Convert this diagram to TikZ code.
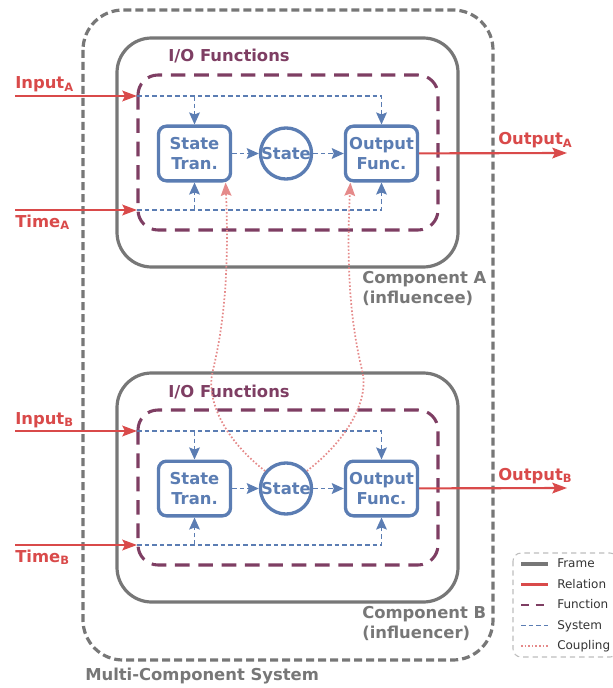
\documentclass[tikz,border=0pt]{standalone}
\usepackage{fontspec}
\setmainfont{DejaVu Sans}
\usetikzlibrary{arrows.meta}

\definecolor{framegray}{HTML}{777777}
\definecolor{relred}{HTML}{D94A4A}
\definecolor{funcplum}{HTML}{7E3E63}
\definecolor{sysblue}{HTML}{5B7DB3}
\definecolor{couplered}{HTML}{E58A8A}
\definecolor{keygray}{HTML}{BDBDBD}

\tikzset{%
  system frame/.style={
    draw=framegray,
    line width=2.4pt,
    dash pattern=on 6pt off 3pt,
    rounded corners=30pt
  },
  comp frame/.style={
    draw=framegray,
    line width=2.4pt,
    rounded corners=26pt
  },
  io box/.style={
    draw=funcplum,
    line width=2.3pt,
    dash pattern=on 11pt off 6.5pt,
    rounded corners=15pt
  },
  every block/.style={
    draw=sysblue,
    line width=2.5pt,
    text=sysblue,
    font=\bfseries\fontsize{12.3}{15}\selectfont,
    align=center,
    inner sep=0pt
  },
  block box/.style={
    rounded corners=6pt,
    minimum width=54pt,
    minimum height=41pt
  },
  block circle/.style={
    circle,
    minimum size=38pt
  },
  relation/.style={
    draw=relred,
    line width=1.6pt,
    >={Stealth[length=11pt, width=8pt, inset=2pt]}
  },
  sys line/.style={
    draw=sysblue,
    line width=1.4pt,
    dash pattern=on 3.5pt off 2.2pt,
    >={Stealth[length=9pt, width=8pt, inset=1.5pt]}
  },
  coupling/.style={
    draw=couplered,
    line width=1.3pt,
    dash pattern=on 1.2pt off 1.5pt,
    >={Stealth[length=10pt, width=8pt, inset=1.5pt]}
  },
  rel label/.style={
    text=relred,
    font=\bfseries\fontsize{12.3}{14}\selectfont,
    inner sep=0pt
  },
  func label/.style={
    text=funcplum,
    font=\bfseries\fontsize{12.3}{14}\selectfont,
    inner sep=0pt
  },
  gray label/.style={
    text=framegray,
    font=\bfseries\fontsize{12.3}{15}\selectfont,
    align=left,
    inner sep=0pt
  },
  key box/.style={
    draw=keygray,
    line width=0.8pt,
    dash pattern=on 4pt off 3pt,
    rounded corners=6pt
  },
  key text/.style={
    text=black!80,
    font=\fontsize{9}{10}\selectfont,
    inner sep=0pt
  },
  key frame/.style={comp frame},
  key relation/.style={draw=relred, line width=2pt},
  key function/.style={io box, line width=2pt, dash pattern=on 6pt off 5pt},
  key system/.style={sys line},
  key coupling/.style={coupling},
}

\begin{document}
\begin{tikzpicture}[x=0.75pt, y=-0.75pt]

\useasboundingbox (0,0) rectangle (612,688);

% whole system
\draw [system frame] (83,10) rectangle (493,660);
\node [gray label, anchor=base west] (sys-label) at (85,680) {Multi-Component System};

% the two components
\foreach \c/\dy/\role in {A/0/influencee, B/335/influencer} {
  \draw [comp frame] (117,38+\dy) rectangle (458,267+\dy);
  \draw [io box] (138,75+\dy) rectangle (438,230+\dy);
  \node [func label, anchor=base] (io-\c) at (229,62+\dy) {I/O Functions};
  \node [gray label, anchor=north west] (comp-\c) at (362,271+\dy)
    {Component \c\\(\role)};

  \node [every block, block box] (tran-\c) at (194.5,153.5+\dy) {State\\Tran.};
  \node [every block, block circle] (state-\c) at (286,153.5+\dy) {State};
  \node [every block, block box] (out-\c) at (381.5,153.5+\dy) {Output\\Func.};

  \coordinate (in-\c-start) at (15,96+\dy);
  \coordinate (in-\c) at (137,96+\dy);
  \coordinate (time-\c-start) at (15,210+\dy);
  \coordinate (time-\c) at (137,210+\dy);
  \coordinate (out-\c-end) at (567,153+\dy);

  \draw [relation, ->] (in-\c-start) -- (in-\c);
  \draw [relation, ->] (time-\c-start) -- (time-\c);
  \draw [relation, ->] (out-\c) -- (out-\c-end);
  \node [rel label, anchor=base west] at (15,89+\dy) {Input\textsubscript{\c}};
  \node [rel label, anchor=base west] at (15,227+\dy) {Time\textsubscript{\c}};
  \node [rel label, anchor=base west] at (498,145+\dy) {Output\textsubscript{\c}};

  \draw [sys line, ->] (in-\c) -| (out-\c.north);
  \draw [sys line, ->] (tran-\c.north |- in-\c) -- (tran-\c.north);
  \draw [sys line, ->] (time-\c) -| (out-\c.south);
  \draw [sys line, ->] (tran-\c.south |- time-\c) -- (tran-\c.south);
  \draw [sys line, ->] (tran-\c) -- (state-\c);
  \draw [sys line, ->] (state-\c) -- (out-\c);
}

% B influences A
\draw [coupling, ->] (state-B.140) .. controls (225,440) and (205,400) .. (213,370)
  .. controls (220,340) and (230,290) .. (tran-A.-43);
\draw [coupling, ->] (state-B.40) .. controls (347,440) and (370,400) .. (362,370)
  .. controls (355,340) and (345,290) .. (out-A.-137);

% legend
\draw [key box] (513,553) rectangle (618,657);
\foreach \s/\l [count=\i] in {frame/Frame, relation/Relation, function/Function,
                               system/System, coupling/Coupling} {
  \node [key text, anchor=mid west] (key-\i) at (557,564+20.5*\i-20.5) {\l};
  \draw [key \s] (521,564+20.5*\i-20.5) -- (548,564+20.5*\i-20.5);
}

\end{tikzpicture}
\end{document}
